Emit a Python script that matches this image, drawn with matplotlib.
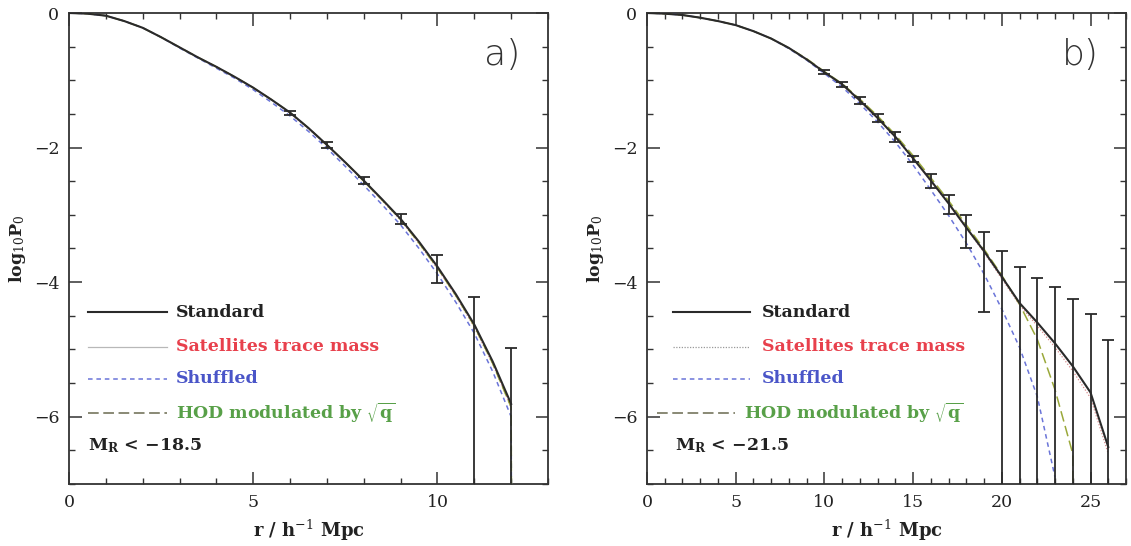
import numpy as np
import matplotlib
matplotlib.use("Agg")
import matplotlib.pyplot as plt

# ---------------- data ----------------
# Panel a: M_R < -18.5
a_r = [0, 0.5, 1, 1.5, 2, 2.5, 3, 3.5, 4, 4.5, 5, 5.5, 6, 6.5, 7, 7.5, 8, 8.5, 9, 9.5, 10, 10.5, 11, 11.5, 12]
a_standard = [0, -0.01, -0.04, -0.12, -0.22, -0.36, -0.51, -0.66, -0.80, -0.95, -1.11, -1.29, -1.48,
              -1.71, -1.96, -2.22, -2.49, -2.77, -3.06, -3.40, -3.77, -4.18, -4.63, -5.18, -5.81]
a_satellites = [0, -0.01, -0.04, -0.12, -0.22, -0.36, -0.51, -0.66, -0.80, -0.95, -1.11, -1.29, -1.49,
                -1.72, -1.97, -2.23, -2.50, -2.79, -3.08, -3.43, -3.80, -4.21, -4.67, -5.22, -5.86]
a_shuffled_r = [0, 0.5, 1, 1.5, 2, 2.5, 3, 3.5, 4, 4.5, 5, 5.5, 6, 6.5, 7, 7.5, 8, 8.5, 9, 9.5, 10, 10.5, 11, 11.5, 12, 12.02]
a_shuffled = [0, -0.01, -0.04, -0.12, -0.22, -0.36, -0.52, -0.67, -0.82, -0.97, -1.14, -1.33, -1.53,
              -1.76, -2.01, -2.28, -2.56, -2.85, -3.15, -3.50, -3.88, -4.30, -4.76, -5.33, -6.00, -9.0]
a_hod_r = [0, 0.5, 1, 1.5, 2, 2.5, 3, 3.5, 4, 4.5, 5, 5.5, 6, 6.5, 7, 7.5, 8, 8.5, 9, 9.5, 10, 10.5, 11, 11.5, 12, 12.02]
a_hod = [0, -0.01, -0.04, -0.12, -0.22, -0.36, -0.51, -0.66, -0.80, -0.95, -1.11, -1.29, -1.48,
         -1.71, -1.96, -2.22, -2.50, -2.78, -3.07, -3.42, -3.79, -4.20, -4.65, -5.21, -5.86, -9.0]
a_err_r = [6, 7, 8, 9, 10, 11, 12]
a_err_val = [-1.48, -1.96, -2.49, -3.06, -3.77, -4.63, -5.81]
a_err_high = [-1.45, -1.92, -2.44, -2.98, -3.60, -4.22, -4.98]
a_err_low = [-1.51, -2.00, -2.54, -3.14, -4.02, -9.0, -9.0]

# Panel b: M_R < -21.5
b_r = [0, 1, 2, 3, 4, 5, 6, 7, 8, 9, 10, 11, 12, 13, 14, 15, 16, 17, 18, 19, 20, 21, 22, 23, 24, 25, 26]
b_standard = [0, -0.01, -0.03, -0.07, -0.12, -0.18, -0.27, -0.38, -0.52, -0.69, -0.88, -1.06, -1.30,
              -1.56, -1.84, -2.16, -2.49, -2.83, -3.19, -3.54, -3.92, -4.31, -4.60, -4.91, -5.25, -5.64, -6.45]
b_satellites = [0, -0.01, -0.03, -0.07, -0.12, -0.18, -0.27, -0.38, -0.52, -0.69, -0.88, -1.07, -1.31,
                -1.57, -1.85, -2.17, -2.50, -2.84, -3.20, -3.56, -3.95, -4.34, -4.65, -4.97, -5.32, -5.72, -6.55]
b_shuffled_r = [0, 1, 2, 3, 4, 5, 6, 7, 8, 9, 10, 11, 12, 13, 14, 15, 16, 17, 18, 19, 20, 21, 22, 23]
b_shuffled = [0, -0.01, -0.03, -0.07, -0.12, -0.18, -0.27, -0.38, -0.53, -0.70, -0.90, -1.10, -1.35,
              -1.62, -1.92, -2.26, -2.63, -3.01, -3.42, -3.88, -4.40, -4.97, -5.70, -6.90]
b_hod_r = [0, 1, 2, 3, 4, 5, 6, 7, 8, 9, 10, 11, 12, 13, 14, 15, 16, 17, 18, 19, 20, 21, 22, 23, 24, 24.02]
b_hod = [0, -0.01, -0.03, -0.07, -0.12, -0.18, -0.27, -0.38, -0.52, -0.68, -0.87, -1.05, -1.28,
         -1.53, -1.81, -2.12, -2.45, -2.79, -3.15, -3.51, -3.90, -4.33, -4.85, -5.60, -6.55, -9.0]
b_err_r = [10, 11, 12, 13, 14, 15, 16, 17, 18, 19, 20, 21, 22, 23, 24, 25, 26]
b_err_val = [-0.88, -1.06, -1.30, -1.56, -1.84, -2.16, -2.49, -2.83, -3.19, -3.54, -3.92, -4.31, -4.60,
             -4.91, -5.25, -5.64, -6.45]
b_err_high = [-0.85, -1.02, -1.25, -1.50, -1.77, -2.12, -2.39, -2.70, -3.00, -3.26, -3.53, -3.77, -3.94,
              -4.07, -4.25, -4.47, -4.86]
b_err_low = [-0.91, -1.10, -1.35, -1.62, -1.91, -2.21, -2.60, -2.99, -3.50, -4.45, -9.0, -9.0, -9.0,
             -9.0, -9.0, -9.0, -9.0]

legend_labels = ["Standard", "Satellites trace mass", "Shuffled", r"HOD modulated by $\sqrt{\mathbf{q}}$"]
panel_tags = ["a)", "b)"]
sample_labels = [r"M$_{\mathbf{R}}$ < $\mathbf{-}$18.5", r"M$_{\mathbf{R}}$ < $\mathbf{-}$21.5"]

# ---------------- style ----------------
plt.rcParams["font.family"] = ["DejaVu Serif"]
plt.rcParams["mathtext.fontset"] = "dejavuserif"
plt.rcParams["axes.unicode_minus"] = True

C_STD = "#2a2a2a"
C_SAT = "#d88a8a"
C_SHUF = "#6a74d8"
C_HOD = "#9aa83a"
T_RED = "#e8404c"
T_BLUE = "#4a55c8"
T_GREEN = "#58a048"
FS = 12.5
LFS = 12.5

fig = plt.figure(figsize=(11.31, 5.46), dpi=100)
axa = fig.add_axes([69 / 1131, 62 / 546, 479 / 1131, 471 / 546])
axb = fig.add_axes([647 / 1131, 62 / 546, 479 / 1131, 471 / 546])


def style_axis(ax, xmax, xmajor):
    ax.set_xlim(0, xmax)
    ax.set_ylim(-7, 0)
    ax.set_xticks(np.arange(0, xmax + 0.01, xmajor))
    ax.set_xticks(np.arange(0, xmax + 0.01, 1), minor=True)
    ax.set_yticks([0, -2, -4, -6])
    ax.set_yticks(np.arange(-7, 0.01, 0.5), minor=True)
    ax.tick_params(which="both", direction="in", top=True, right=True, color="#333333",
                   labelsize=FS, labelcolor="#222222", pad=7)
    ax.tick_params(which="major", length=9, width=1.1)
    ax.tick_params(which="minor", length=4.5, width=1.0)
    for s in ax.spines.values():
        s.set_linewidth(1.3)
        s.set_color("#333333")
    ax.set_xlabel(r"r / h$^{-1}$ Mpc", fontsize=FS + 0.5, color="#222222", labelpad=5,
                  fontweight="bold")
    ax.set_ylabel(r"log$_{10}$P$_0$", fontsize=FS, color="#222222", labelpad=4,
                  fontweight="bold")


def draw_panel(ax, r, std, sat, sh_r, sh, hod_r, hod, er, ev, ehi, elo):
    ax.plot(r, sat, color=C_SAT, lw=0.9, ls=(0, (1, 1.5)), zorder=2)
    ax.plot(sh_r, sh, color=C_SHUF, lw=1.1, ls=(0, (3, 2.5)), zorder=3)
    ax.plot(hod_r, hod, color=C_HOD, lw=1.1, ls=(0, (7, 3)), zorder=3)
    ax.plot(r, std, color=C_STD, lw=1.5, zorder=4)
    ev = np.array(ev)
    yerr = [ev - np.array(elo), np.array(ehi) - ev]
    ax.errorbar(er, ev, yerr=yerr, fmt="none", ecolor=C_STD, elinewidth=1.3,
                capsize=4, capthick=1.3, zorder=5)


style_axis(axa, 13, 5)
style_axis(axb, 27, 5)
draw_panel(axa, a_r, a_standard, a_satellites, a_shuffled_r, a_shuffled, a_hod_r, a_hod,
           a_err_r, a_err_val, a_err_high, a_err_low)
draw_panel(axb, b_r, b_standard, b_satellites, b_shuffled_r, b_shuffled, b_hod_r, b_hod,
           b_err_r, b_err_val, b_err_high, b_err_low)

# legends (drawn manually to mimic layout)
rows_y = [0.365, 0.291, 0.223, 0.151]
line_styles = [dict(color=C_STD, lw=1.5, ls="-"),
               dict(color="#b8b8b8", lw=0.9, ls="-"),
               dict(color=C_SHUF, lw=1.1, ls=(0, (3, 2.5))),
               dict(color="#6a6a50", lw=1.1, ls=(0, (7, 3)))]
text_cols = ["#222222", T_RED, T_BLUE, T_GREEN]

leg_geo = {
    "a": dict(ax=axa, x0=[0.040] * 4, x1=[0.205] * 4, xt=[0.223] * 4, mx=0.040),
    "b": dict(ax=axb, x0=[0.054, 0.054, 0.054, 0.021], x1=[0.215, 0.215, 0.215, 0.184],
              xt=[0.240, 0.240, 0.240, 0.203], mx=0.058),
}
for i, key in enumerate(["a", "b"]):
    g = leg_geo[key]
    ax = g["ax"]
    for j in range(4):
        st = dict(line_styles[j])
        if key == "b" and j == 1:
            st["ls"] = (0, (1, 1.2))
            st["color"] = "#999999"
        ax.plot([g["x0"][j], g["x1"][j]], [rows_y[j]] * 2, transform=ax.transAxes,
                clip_on=False, **st)
        ax.text(g["xt"][j], rows_y[j], legend_labels[j], transform=ax.transAxes,
                ha="left", va="center", fontsize=LFS, color=text_cols[j], fontweight="bold")
    ax.text(g["mx"], 0.081, sample_labels[i], transform=ax.transAxes, ha="left",
            va="center", fontsize=LFS, color="#222222", fontweight="bold")
    ax.text(0.905, 0.91, panel_tags[i], transform=ax.transAxes, ha="center", va="center",
            fontsize=26, color="#333333", family="DejaVu Sans", fontweight="light")

fig.savefig("out.png", dpi=100, facecolor="white")
